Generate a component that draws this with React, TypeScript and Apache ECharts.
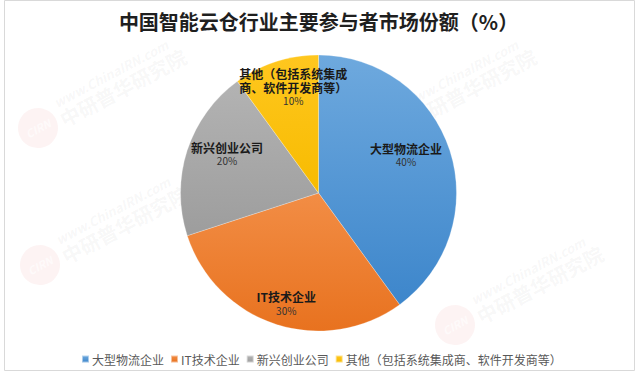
import React, { useEffect, useRef } from "react";
import * as echarts from "echarts";

const titleText = "中国智能云仓行业主要参与者市场份额（%）";
const categories = [
  "大型物流企业",
  "IT技术企业",
  "新兴创业公司",
  "其他（包括系统集成商、软件开发商等）",
];
const labelNames = [
  "大型物流企业",
  "IT技术企业",
  "新兴创业公司",
  "其他（包括系统集成\n商、软件开发商等）",
];
const values = [40, 30, 20, 10];
const colorsTop = ["#6EA9DE", "#F28D45", "#B3B3B3", "#FFC71F"];
const colorsBottom = ["#3D86CB", "#E8721F", "#9D9D9D", "#F7BB00"];
const labelShift = [
  [19, -16],
  [-10, 42],
  [-23, -17],
  [-3, -38],
];

const FONT = "'Noto Sans CJK SC', 'Microsoft YaHei', sans-serif";

function watermark(cx: number, cy: number) {
  return {
    type: "group",
    x: cx,
    y: cy,
    rotation: (28 * Math.PI) / 180,
    silent: true,
    children: [
      {
        type: "circle",
        shape: { cx: 0, cy: 0, r: 20 },
        style: { fill: "rgba(230,120,120,0.09)" },
      },
      {
        type: "text",
        x: 0,
        y: 0,
        style: {
          text: "CIRN",
          fill: "rgba(255,255,255,0.6)",
          font: "bold italic 11px " + FONT,
          align: "center",
          verticalAlign: "middle",
        },
      },
      {
        type: "text",
        x: 26,
        y: -14,
        style: {
          text: "www.ChinaIRN.com",
          fill: "rgba(150,150,150,0.08)",
          font: "bold italic 13px " + FONT,
          verticalAlign: "middle",
        },
      },
      {
        type: "text",
        x: 24,
        y: 4,
        style: {
          text: "中研普华研究院",
          fill: "rgba(150,150,150,0.08)",
          font: "bold 20px " + FONT,
          verticalAlign: "middle",
        },
      },
    ],
  };
}

export default function App() {
  const ref = useRef<HTMLDivElement>(null);
  useEffect(() => {
    if (!ref.current) return;
    const chart = echarts.init(ref.current, undefined, { renderer: "svg" });
    const data = categories.map((name, i) => ({
      name,
      value: values[i],
      itemStyle: {
        color: new echarts.graphic.LinearGradient(0, 0, 0, 1, [
          { offset: 0, color: colorsTop[i] },
          { offset: 1, color: colorsBottom[i] },
        ]),
      },
    }));
    chart.setOption({
      animation: false,
      backgroundColor: "#ffffff",
      title: {
        text: titleText,
        left: "center",
        top: 6,
        textStyle: {
          fontFamily: FONT,
          fontSize: 20,
          fontWeight: "bold",
          color: "#1f1f1f",
        },
      },
      legend: {
        data: categories,
        left: 76,
        top: 348,
        icon: "rect",
        itemWidth: 7,
        itemHeight: 7,
        itemGap: 6,
        textStyle: { fontFamily: FONT, fontSize: 12, color: "#595959", padding: [0, 0, 0, -2] },
      },
      graphic: [
        {
          type: "rect",
          shape: { x: 4.5, y: 0.5, width: 630, height: 370 },
          style: { fill: "none", stroke: "#d9d9d9", lineWidth: 1 },
          silent: true,
        },
        watermark(38, 128),
        watermark(388, 128),
        watermark(40, 265),
        watermark(455, 325),
      ],
      series: [
        {
          type: "pie",
          center: [318.5, 193],
          radius: 138,
          startAngle: 90,
          clockwise: true,
          data,
          itemStyle: { borderColor: "rgba(255,255,255,0.5)", borderWidth: 0.5 },
          label: {
            show: true,
            position: "inside",
            formatter: (p: any) =>
              "{n|" + labelNames[p.dataIndex].split("\n").join("}\n{n|") + "}\n{p|" + p.percent + "%}",
            rich: {
              n: {
                fontFamily: FONT,
                fontSize: 12,
                fontWeight: "bold",
                color: "#1a1a1a",
                lineHeight: 14,
                align: "center",
              },
              p: {
                fontFamily: FONT,
                fontSize: 10,
                color: "#333333",
                lineHeight: 13,
                align: "center",
              },
            },
          },
          labelLine: { show: false },
          labelLayout: (params: any) => {
            const s = labelShift[params.dataIndex];
            return { dx: s[0], dy: s[1] };
          },
        },
      ],
    });
    return () => chart.dispose();
  }, []);
  return (
    <div
      ref={ref}
      style={{ position: "absolute", left: 0, top: 0, width: 637, height: 375 }}
    />
  );
}
